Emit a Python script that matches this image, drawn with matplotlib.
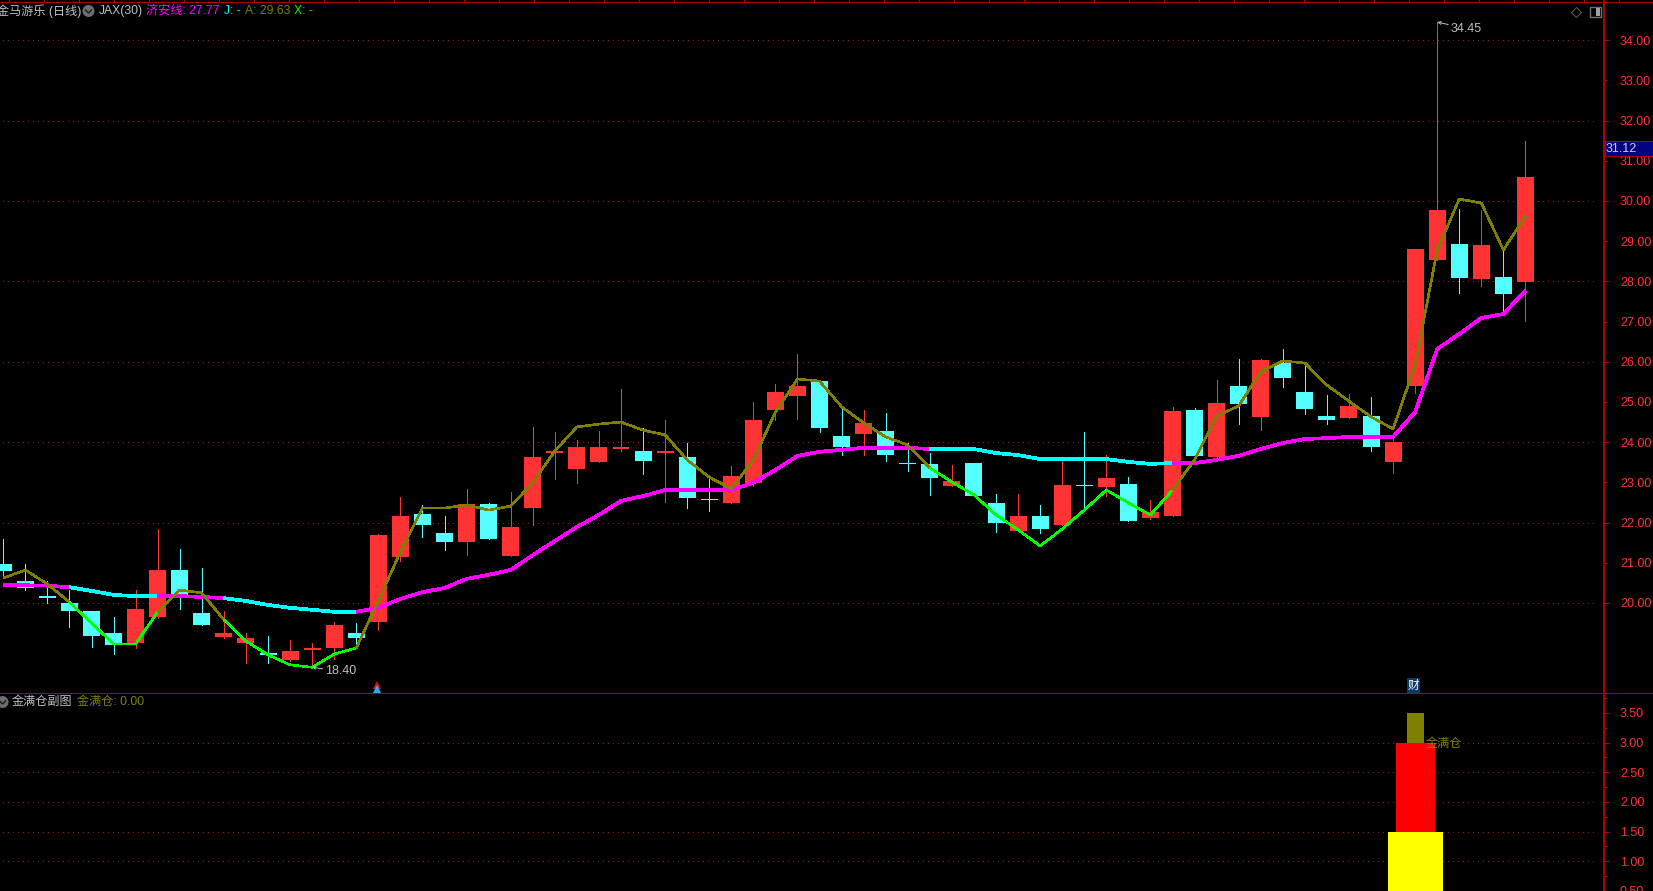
"""
Daily candles for 金马游乐 with the JAX(30) overlay and the 金满仓 sub chart.
"""

import matplotlib
matplotlib.use('Agg')
import matplotlib.pyplot as plt
from matplotlib.patches import Rectangle, Circle

plt.rcParams['font.family'] = ['Liberation Sans', 'Noto Sans CJK SC', 'DejaVu Sans']

# open, high, low, close of each day
opens = [20.97, 20.55, 20.17, 20.00, 19.80, 19.25, 19.00, 19.65, 20.82, 19.75,
         19.15, 19.00, 18.76, 18.58, 18.83, 18.88, 19.25, 19.53, 21.14, 22.21,
         21.74, 21.52, 22.46, 21.17, 22.36, 23.73, 23.33, 23.51, 23.83, 23.78,
         23.73, 23.63, 22.59, 22.49, 22.99, 24.80, 25.15, 25.52, 24.15, 24.20,
         24.28, 23.48, 23.46, 22.91, 23.48, 22.49, 21.79, 22.16, 21.94, 22.94,
         22.89, 22.96, 22.11, 22.16, 24.80, 23.63, 25.40, 24.63, 25.97, 25.25,
         24.65, 24.60, 24.65, 23.51, 25.40, 28.53, 28.93, 28.06, 28.11, 27.99]
highs = [21.59, 20.97, 20.55, 20.32, 19.80, 19.65, 20.32, 21.84, 21.34, 20.87,
         19.80, 19.25, 19.18, 19.08, 19.00, 19.53, 19.50, 21.71, 22.64, 22.44,
         22.16, 22.84, 22.49, 22.76, 24.38, 24.25, 24.05, 24.28, 25.32, 24.35,
         24.55, 23.98, 23.16, 23.41, 25.00, 25.45, 26.19, 25.52, 24.88, 24.80,
         24.73, 23.98, 23.73, 23.43, 23.48, 22.71, 22.71, 22.44, 23.56, 24.25,
         23.68, 23.13, 22.56, 24.88, 24.85, 25.55, 26.07, 26.07, 26.32, 25.97,
         25.17, 25.20, 25.12, 24.13, 28.81, 34.45, 29.80, 29.78, 28.78, 31.49]
lows = [20.62, 20.31, 20.00, 19.41, 18.91, 18.73, 18.89, 19.63, 19.85, 19.45,
        19.13, 18.51, 18.51, 18.56, 18.40, 18.61, 18.88, 19.33, 21.04, 21.64,
        21.32, 21.19, 21.59, 21.17, 21.94, 23.08, 22.99, 23.51, 23.78, 23.21,
        22.51, 22.36, 22.29, 22.49, 22.91, 24.55, 24.58, 24.25, 23.68, 23.68,
        23.53, 23.28, 22.69, 22.91, 22.66, 21.77, 21.79, 21.74, 21.94, 22.39,
        22.66, 22.04, 22.09, 22.16, 23.66, 23.63, 24.45, 24.30, 25.37, 24.70,
        24.45, 24.60, 23.78, 23.23, 25.22, 28.53, 27.71, 27.89, 27.24, 27.02]
closes = [20.80, 20.38, 20.13, 19.80, 19.18, 18.96, 19.85, 20.82, 20.20, 19.45,
          19.25, 19.13, 18.71, 18.81, 18.88, 19.45, 19.13, 21.69, 22.16, 21.94,
          21.52, 22.46, 21.59, 21.89, 23.63, 23.78, 23.88, 23.88, 23.88, 23.53,
          23.78, 22.61, 22.56, 23.16, 24.55, 25.25, 25.40, 24.35, 23.88, 24.48,
          23.68, 23.46, 23.11, 23.03, 22.66, 21.99, 22.16, 21.84, 22.94, 22.91,
          23.11, 22.04, 22.26, 24.78, 23.66, 24.98, 24.95, 26.04, 25.60, 24.83,
          24.55, 24.90, 23.88, 24.00, 28.81, 29.78, 28.08, 28.91, 27.69, 30.60]

# thick line (济安线) and thin line (A/X)
jian_line = [20.45, 20.44, 20.43, 20.39, 20.30, 20.20, 20.17, 20.17, 20.17, 20.15,
             20.12, 20.05, 19.95, 19.88, 19.83, 19.78, 19.78, 19.88, 20.10, 20.27,
             20.37, 20.60, 20.70, 20.82, 21.19, 21.54, 21.89, 22.19, 22.54, 22.66,
             22.81, 22.81, 22.81, 22.81, 22.99, 23.31, 23.66, 23.76, 23.81, 23.86,
             23.86, 23.86, 23.83, 23.83, 23.83, 23.73, 23.68, 23.58, 23.58, 23.58,
             23.58, 23.51, 23.46, 23.48, 23.48, 23.56, 23.66, 23.83, 23.98, 24.08,
             24.10, 24.13, 24.13, 24.13, 24.75, 26.32, 26.69, 27.09, 27.19, 27.77]
a_line = [20.62, 20.82, 20.47, 20.02, 19.50, 18.98, 18.98, 19.78, 20.32, 20.25,
          19.58, 19.05, 18.71, 18.46, 18.40, 18.73, 18.88, 20.05, 21.27, 22.36,
          22.36, 22.44, 22.31, 22.41, 22.99, 23.78, 24.38, 24.45, 24.50, 24.30,
          24.18, 23.56, 23.13, 22.84, 23.56, 24.75, 25.57, 25.52, 24.88, 24.48,
          24.13, 23.93, 23.36, 23.01, 22.69, 22.19, 21.82, 21.42, 21.84, 22.31,
          22.81, 22.49, 22.19, 22.81, 23.56, 24.65, 24.90, 25.75, 26.02, 25.97,
          25.42, 25.02, 24.63, 24.33, 25.92, 28.78, 30.05, 29.95, 28.78, 29.63]

# stretches (first day, last day) where the lines turn cyan / green
weak_runs = [(3, 7), (10, 16), (42, 53)]

price_ticks = list(range(20, 35))
grid_prices = list(range(20, 35, 2))
last_price = '31.12'
high_label = '34.45'
low_label = '18.40'

# sub chart: day of the signal, and the three stacked blocks
signal_day = 64
block_bottoms = [0.0, 1.5, 3.0]
block_tops = [1.5, 3.0, 3.5]
sub_ticks = [0.5, 1.0, 1.5, 2.0, 2.5, 3.0, 3.5]
sub_minor_ticks = [0.75, 1.25, 1.75, 2.25, 2.75, 3.25, 3.75]
sub_grid = [1.0, 1.5, 2.0, 2.5, 3.0]

BG = '#000000'
UP = '#ff3333'
DOWN = '#54ffff'
AXIS = '#b00000'
GRID = '#a01c1c'
TEXT = '#c0c0c0'
OLIVE = '#808000'

W, H = 1653, 891
PX = 72.0 / 100  # one pixel in points

fig = plt.figure(figsize=(W / 100, H / 100), dpi=100, facecolor=BG)


def pixel_axes(top, bottom):
    ax = fig.add_axes([0, 1 - bottom / H, 1604 / W, (bottom - top) / H], facecolor=BG)
    for side in ['left', 'top', 'bottom']:
        ax.spines[side].set_visible(False)
    ax.spines['right'].set_color(AXIS)
    ax.spines['right'].set_linewidth(2 * PX)
    ax.set_xticks([])
    ax.yaxis.tick_right()
    ax.set_xlim(-0.15, 72.56)
    return ax


def style_ticks(ax):
    ax.tick_params(axis='y', which='major', length=5 * PX, width=PX, color=AXIS,
                   labelcolor=UP, labelsize=9, pad=11 * PX)
    ax.tick_params(axis='y', which='minor', length=3 * PX, width=PX, color=AXIS,
                   labelcolor=UP, labelsize=9, pad=13 * PX)


def draw_grid(ax, levels):
    ax.hlines(levels, 0, 72.2, colors=GRID, linewidth=PX,
              linestyles=[(0, (1, 5))], antialiased=False, zorder=1)


def draw_runs(ax, values, normal, weak, lw):
    # split the line where its colour changes
    start = 0
    for first, last in weak_runs:
        ax.plot(range(start, first + 1), values[start:first + 1], color=normal, lw=lw,
                solid_capstyle='butt', antialiased=False, zorder=5)
        ax.plot(range(first, last + 1), values[first:last + 1], color=weak, lw=lw,
                solid_capstyle='butt', antialiased=False, zorder=5)
        start = last
    ax.plot(range(start, len(values)), values[start:], color=normal, lw=lw,
            solid_capstyle='butt', antialiased=False, zorder=5)


# main chart
ax = pixel_axes(1, 693)
ax.set_ylim(17.76, 34.975)
draw_grid(ax, grid_prices)

for i in range(len(opens)):
    colour = UP if closes[i] >= opens[i] else DOWN
    ax.vlines(i, lows[i], highs[i], colors=colour, linewidth=PX, antialiased=False, zorder=3)
    ax.bar(i, abs(closes[i] - opens[i]), bottom=min(opens[i], closes[i]), width=0.77,
           color=colour, linewidth=0, antialiased=False, zorder=4)

draw_runs(ax, jian_line, '#ff00ff', '#00ffff', 2.7 * PX)
draw_runs(ax, a_line, OLIVE, '#00ff00', 1.6 * PX)

major = [p for p in price_ticks if p % 2 == 0]
minor = [p for p in price_ticks if p % 2 == 1]
ax.set_yticks(major)
ax.set_yticklabels(['%.2f' % p for p in major], fontsize=9)
ax.set_yticks(minor, minor=True)
ax.set_yticklabels(['%.2f' % p for p in minor], minor=True, fontsize=9)
style_ticks(ax)

peak = highs.index(max(highs))
trough = lows.index(min(lows))
ax.annotate(high_label, xy=(peak, highs[peak]), xytext=(peak + 0.62, highs[peak] - 0.16),
            color=TEXT, fontsize=9, va='center',
            arrowprops=dict(arrowstyle='->', color=TEXT, lw=PX, shrinkA=0, shrinkB=0,
                            mutation_scale=5), zorder=7)
ax.annotate(low_label, xy=(trough, lows[trough]), xytext=(trough + 0.6, lows[trough] - 0.1),
            color=TEXT, fontsize=9, va='center',
            arrowprops=dict(arrowstyle='->', color=TEXT, lw=PX, shrinkA=0, shrinkB=0,
                            mutation_scale=5), zorder=7)

# sub chart
sub = pixel_axes(693, 891)
sub.set_ylim(0.498, 3.837)
draw_grid(sub, sub_grid)
block_widths = [2.49, 1.77, 0.77]
block_colours = ['#ffff00', '#ff0000', OLIVE]
for b0, b1, w, c in zip(block_bottoms, block_tops, block_widths, block_colours):
    sub.bar(signal_day, b1 - b0, bottom=b0, width=w, color=c, linewidth=0,
            antialiased=False, zorder=4)
sub.set_yticks(sub_ticks)
sub.set_yticklabels(['%.2f' % v for v in sub_ticks], fontsize=9)
sub.set_yticks(sub_minor_ticks, minor=True)
style_ticks(sub)

# header text, icons and frame sit on a pixel overlay
over = fig.add_axes([0, 0, 1, 1], facecolor='none')
over.set_xlim(0, W)
over.set_ylim(H, 0)
over.axis('off')
over.plot([0, W], [1.5, 1.5], color=AXIS, lw=PX, antialiased=False)
over.vlines(range(9, W, 35), 0, 1, color=AXIS, lw=PX, antialiased=False)
over.plot([0, W], [693, 693], color=AXIS, lw=PX, antialiased=False)


def label(x, y, s, colour=TEXT, size=8.7):
    over.text(x, y + 1, s, color=colour, fontsize=size, va='center', ha='left')


def round_icon(x, y):
    over.add_patch(Circle((x, y), 6, facecolor='#6e6e6e', edgecolor='none'))
    over.plot([x - 3, x, x + 3], [y - 1, y + 2, y - 1], color='#1a1a1a', lw=1.4 * PX)


label(-3, 10, '金马游乐 (日线)')
round_icon(88.5, 11)
label(99, 10, 'JAX(30)')
label(146, 10, '济安线: 27.77', '#ff00ff')
label(224, 10, 'J: -', '#00ffff')
label(245, 10, 'A: 29.63', OLIVE)
label(294, 10, 'X: -', '#00ff00')

round_icon(2.5, 702)
label(12, 701, '金满仓副图')
label(77, 701, '金满仓: 0.00', OLIVE)
label(1426, 743, '金满仓', OLIVE)

# window icons, top right
over.plot([1576], [12], marker='D', ms=7 * PX * 1.1, mfc='none', mec='#5a5a5a', mew=PX)
over.add_patch(Rectangle((1590, 7), 11, 10, facecolor='none', edgecolor='#707070', lw=1.4 * PX))
over.add_patch(Rectangle((1596, 8), 4, 8, facecolor='#a0a0a0', edgecolor='none'))

# last price box on the axis
over.add_patch(Rectangle((1605, 141), 48, 15, facecolor='#000080', edgecolor=AXIS, lw=PX, zorder=6))
over.text(1606, 149, last_price, color='#c8c8ff', fontsize=9, va='center', ha='left', zorder=7)

# 财 flag and the buy marker
over.text(1413.5, 685.5, '财', color='#ffffff', fontsize=8.4, ha='center', va='center',
          bbox=dict(boxstyle='square,pad=0.1', facecolor='#0b3a66', edgecolor='none'))
over.plot([377], [685], marker='^', ms=8 * PX, color='#e01010', mew=0)
over.plot([377], [689], marker='^', ms=8 * PX, color='#20b0f0', mew=0)

fig.savefig('out.png', dpi=100, facecolor=BG)
